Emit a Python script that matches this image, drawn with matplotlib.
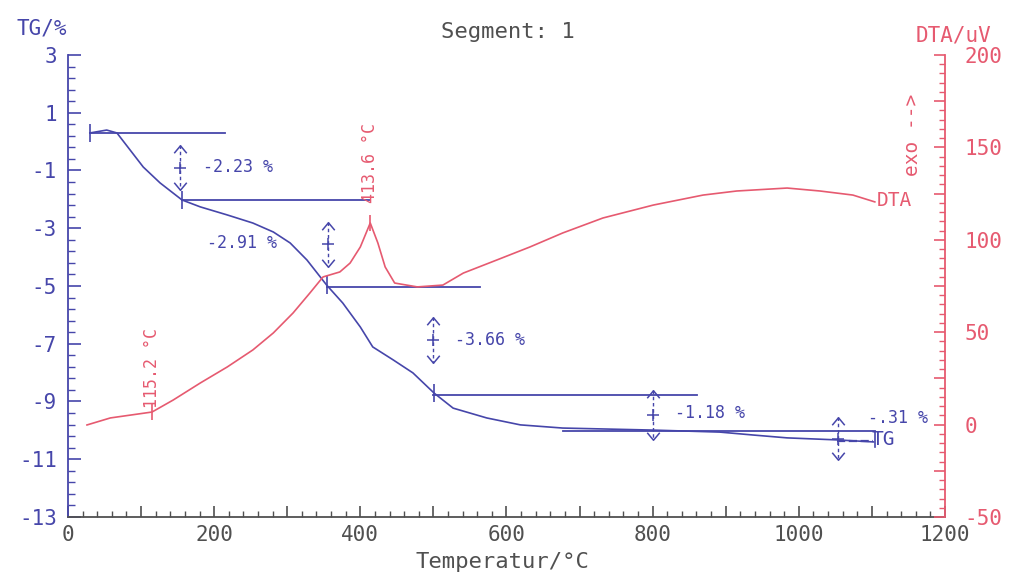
import numpy as np
import matplotlib
matplotlib.use('Agg')
import matplotlib.pyplot as plt
from matplotlib.path import Path

plt.rcParams['font.family'] = ['DejaVu Sans Mono', 'DejaVu Sans']
plt.rcParams['axes.unicode_minus'] = False

# TG curve (temperature in C, mass change in %)
tg_temp = [30, 53, 67, 85, 103, 126, 156, 181, 218, 253, 281, 304, 327, 354,
           376, 400, 417, 445, 472, 501, 527, 573, 619, 677, 800, 892, 937,
           984, 1052, 1102]
tg_val = [0.30, 0.40, 0.30, -0.29, -0.88, -1.43, -2.02, -2.26, -2.54, -2.82,
          -3.13, -3.51, -4.10, -4.97, -5.59, -6.42, -7.11, -7.56, -8.01,
          -8.71, -9.23, -9.57, -9.81, -9.92, -9.99, -10.06, -10.16, -10.26,
          -10.33, -10.40]

# DTA curve (uV)
dta_temp = [26, 58, 115, 144, 181, 218, 253, 281, 308, 331, 349, 372, 386,
            400, 404, 413.6, 424, 434, 447, 478, 513, 541, 587, 632, 677, 732,
            801, 869, 915, 984, 1029, 1074, 1104]
dta_val = [-0.2, 3.6, 6.8, 13.3, 22.5, 31.2, 40.4, 49.6, 60.4, 71.2, 79.9,
           82.6, 87.4, 96.1, 99.9, 109.1, 98.3, 85.3, 76.6, 74.5, 75.5, 82.0,
           89.1, 96.1, 103.7, 111.8, 118.8, 124.2, 126.4, 128.0, 126.4, 124.2,
           120.5]

# evaluation lines: level, start T, end T
step_levels = [0.30, -2.02, -5.03, -8.77, -10.02]
step_start = [30, 156, 354, 499, 677]
step_end = [215, 413, 564, 861, 1104]

# step arrows: T, top, bottom, label, label position
arrow_temp = [153, 356, 499, 800, 1054]
arrow_top = [-0.12, -2.78, -6.07, -8.60, -9.54]
arrow_bot = [-1.68, -4.34, -7.67, -10.33, -11.03]
step_labels = ['-2.23 %', '-2.91 %', '-3.66 %', '-1.18 %', '-.31 %']
label_temp = [185, 190, 530, 831, 1095]
label_val = [-0.88, -3.51, -6.87, -9.40, -9.57]

# peak markers on DTA
peak_temp = [115.2, 413.6]
peak_val = [6.8, 109.1]
peak_labels = ['115.2 °C', '413.6 °C']
peak_text_val = [9.0, 120.0]

x_ticks = list(range(0, 1201, 100))
x_ticklabels = ['0', '', '200', '', '400', '', '600', '', '800', '', '1000', '', '1200']
tg_ticks = list(range(-13, 4, 2))
dta_ticks = list(range(-50, 201, 25))
dta_ticklabels = ['-50', '', '0', '', '50', '', '100', '', '150', '', '200']

blue = '#4646aa'
red = '#e65a70'
gray = '#505050'

fig = plt.figure(figsize=(10.16, 5.77), dpi=100)
ax = fig.add_axes([0.0669, 0.104, 0.8632, 0.8007])
ax2 = ax.twinx()

ax.set_xlim(0, 1200)
ax.set_ylim(-13, 3)
ax2.set_ylim(-50, 200)

# TG
ax.plot(tg_temp, tg_val, color=blue, lw=1.2)
for lv, s, e in zip(step_levels, step_start, step_end):
    ax.plot([s, e], [lv, lv], color=blue, lw=1.3)
ax.plot([1052, 1102], [-10.37, -10.37], color=blue, lw=1.6, ls='--')
ax.plot([tg_temp[0]] + [156, 354, 501], [0.30, -2.02, -4.97, -8.71],
        ls='none', marker='|', ms=13, mew=1.2, color=blue)
ax.plot([1104, 1104], [-10.06, -10.58], color=blue, lw=1.2)
ax.text(1100, -10.3, 'TG', color=blue, fontsize=14, va='center', ha='left')

up = Path([(-1, -0.6), (0, 0.6), (1, -0.6)], [Path.MOVETO, Path.LINETO, Path.LINETO])
down = Path([(-1, 0.6), (0, -0.6), (1, 0.6)], [Path.MOVETO, Path.LINETO, Path.LINETO])
for t, a, b, lab, lt, lvv in zip(arrow_temp, arrow_top, arrow_bot, step_labels,
                                 label_temp, label_val):
    ax.plot([t, t], [a, b], color=blue, lw=1.0, ls=(0, (2.5, 2)))
    ax.plot([t], [a - 0.15], marker=up, ms=9, mfc='none', mec=blue, mew=1.1)
    ax.plot([t], [b + 0.15], marker=down, ms=9, mfc='none', mec=blue, mew=1.1)
    ax.plot([t], [(a + b) / 2], marker='+', ms=8, mew=1.1, color=blue)
    ax.text(lt, lvv, lab, color=blue, fontsize=12, va='center', ha='left')

# DTA
ax2.plot(dta_temp, dta_val, color=red, lw=1.2)
ax2.plot(peak_temp, peak_val, ls='none', marker='|', ms=12, mew=1.2, color=red)
for t, lab, tv in zip(peak_temp, peak_labels, peak_text_val):
    ax2.text(t, tv, lab, color=red, fontsize=12, rotation=90,
             ha='center', va='bottom')
ax2.text(1106, 121, 'DTA', color=red, fontsize=14, va='center', ha='left')
ax2.text(1155, 157, 'exo -->', color=red, fontsize=14, rotation=90,
         ha='center', va='center')

# axes styling
ax.spines['top'].set_visible(False)
ax2.spines['top'].set_visible(False)
ax.spines['left'].set_color(blue)
ax.spines['bottom'].set_color(gray)
ax.spines['right'].set_visible(False)
ax2.spines['left'].set_visible(False)
ax2.spines['bottom'].set_visible(False)
ax2.spines['right'].set_color(red)
for a in [ax, ax2]:
    for sp in a.spines.values():
        sp.set_linewidth(1.3)

ax.set_xticks(x_ticks)
ax.set_xticklabels(x_ticklabels)
ax.set_xticks(np.arange(0, 1201, 20), minor=True)
ax.set_yticks(tg_ticks)
ax.set_yticks(np.arange(-13, 3.01, 0.4), minor=True)
ax.tick_params(axis='x', which='major', direction='in', length=8, width=1.2,
               colors=gray, labelsize=15, pad=6)
ax.tick_params(axis='x', which='minor', direction='in', length=4, width=1, color=gray)
ax.tick_params(axis='y', which='major', direction='in', length=9, width=1.2,
               colors=blue, labelsize=15, pad=8)
ax.tick_params(axis='y', which='minor', direction='in', length=5, width=1, color=blue)

ax2.set_yticks(dta_ticks)
ax2.set_yticklabels(dta_ticklabels)
ax2.set_yticks(np.arange(-50, 201, 5), minor=True)
ax2.tick_params(axis='y', which='major', direction='in', length=8, width=1.2,
                colors=red, labelsize=15, pad=14)
ax2.tick_params(axis='y', which='minor', direction='in', length=4, width=1, color=red)

fig.text(0.0167, 0.951, 'TG/%', color=blue, fontsize=15, va='center', ha='left')
fig.text(0.938, 0.939, 'DTA/uV', color=red, fontsize=15, va='center', ha='center')
fig.text(0.50, 0.945, 'Segment: 1', color=gray, fontsize=16, va='center', ha='center')
fig.text(0.495, 0.026, 'Temperatur/°C', color=gray, fontsize=16, va='center', ha='center')

fig.savefig('out.png', dpi=100)
